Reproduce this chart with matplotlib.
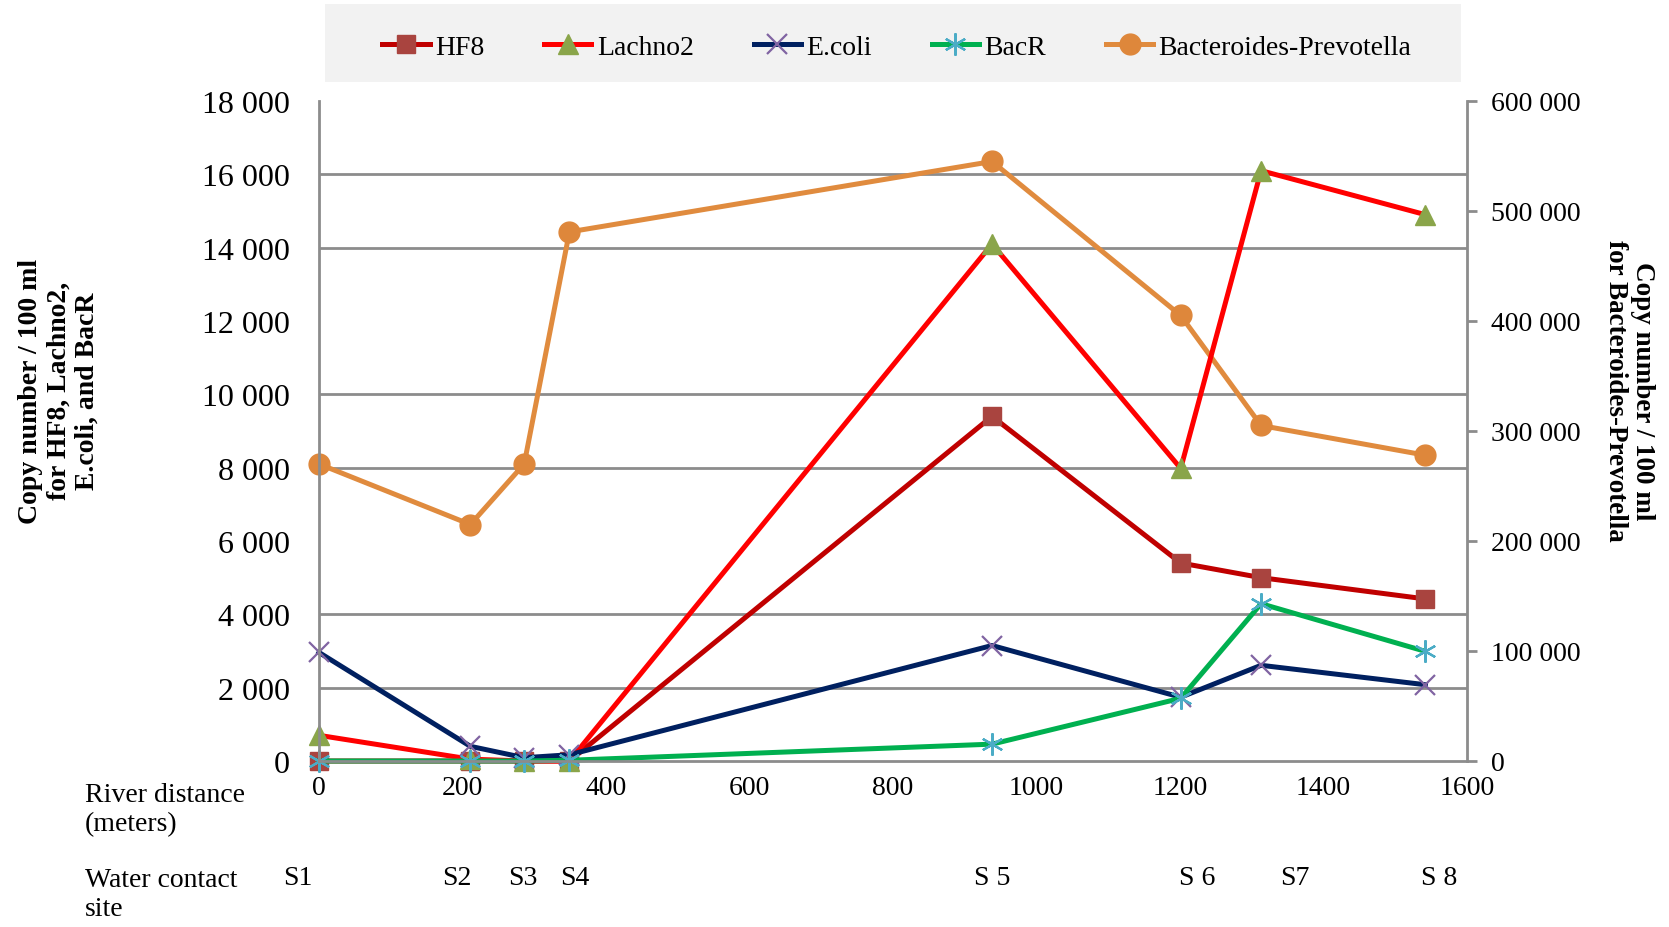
import matplotlib
matplotlib.use("Agg")
import matplotlib.pyplot as plt
from matplotlib.patches import Rectangle
from matplotlib.ticker import FuncFormatter, MultipleLocator
import numpy as np

plt.rcParams['font.family'] = ['Liberation Serif', 'DejaVu Serif']

# ---- data ----
distance = [0, 211, 286, 349, 938, 1201, 1313, 1542]
sites = ["S1", "S2", "S3", "S4", "S 5", "S 6", "S7", "S 8"]
hf8 = [0, 0, 0, 0, 9400, 5400, 5000, 4420]
lachno2 = [700, 50, 0, 0, 14100, 7980, 16100, 14900]
ecoli = [2960, 400, 90, 170, 3150, 1740, 2610, 2080]
bacr = [0, 0, 0, 20, 460, 1710, 4290, 2990]
bact_prev = [270000, 215000, 270000, 481000, 545000, 405000, 305000, 278000]

fig = plt.figure(figsize=(16.69, 9.28), dpi=100)
W, H = 1669, 928
ax = fig.add_axes([319 / W, 1 - 762 / H, (1467 - 319) / W, (762 - 102) / H])
ax2 = ax.twinx()
ax.set_zorder(2)
ax2.set_zorder(1)
ax.patch.set_visible(False)

grid_c = '#8c8c8c'
ax.set_xlim(0, 1600)
ax.set_ylim(0, 18000)
ax2.set_ylim(0, 600000)

# grid drawn on ax2 (behind) at left-axis positions
ratio = 600000 / 18000
ax2.set_yticks(np.arange(0, 18001, 2000) * ratio, minor=True)
ax2.grid(which='minor', axis='y', color=grid_c, lw=2)
ax2.tick_params(which='minor', length=0)

lw = 3.6
l1, = ax.plot(distance, hf8, color='#C00000', lw=lw, marker='s', ms=13,
              mfc='#A9443F', mec='#A9443F', label='HF8', clip_on=False)
l2, = ax.plot(distance, lachno2, color='#FF0000', lw=lw, marker='^', ms=15,
              mfc='#8AA54A', mec='#8AA54A', label='Lachno2', clip_on=False)
l3, = ax.plot(distance, ecoli, color='#002060', lw=lw, marker='x', ms=15, mew=1.6,
              mfc='#8064A2', mec='#8064A2', label='E.coli', clip_on=False)
l4, = ax.plot(distance, bacr, color='#00B050', lw=lw, marker=(6, 2, 0), ms=16, mew=1.6,
              mfc='#4BACC6', mec='#4BACC6', label='BacR', clip_on=False)
l5, = ax2.plot(distance, bact_prev, color='#E08B3E', lw=lw, marker='o', ms=15,
               mfc='#DE873B', mec='#DE873B', label='Bacteroides-Prevotella', clip_on=False)

fmt = FuncFormatter(lambda v, p: f"{int(round(v)):,}".replace(",", " "))
ax.yaxis.set_major_locator(MultipleLocator(2000))
ax.yaxis.set_major_formatter(fmt)
ax2.yaxis.set_major_locator(MultipleLocator(100000))
ax2.yaxis.set_major_formatter(fmt)
ax.xaxis.set_major_locator(MultipleLocator(200))

for s in ['top', 'right']:
    ax.spines[s].set_visible(False)
for s in ['top', 'left', 'bottom']:
    ax2.spines[s].set_visible(False)
for sp in [ax.spines['left'], ax.spines['bottom'], ax2.spines['right']]:
    sp.set_color(grid_c)
    sp.set_linewidth(2)

ax.tick_params(axis='y', length=0, pad=21, labelsize=23)
ax.tick_params(axis='x', length=0, pad=10, labelsize=20)
ax2.tick_params(axis='y', which='major', length=7, width=2, color=grid_c, pad=10, labelsize=20)

# site labels below axis
site_off = [-15, -10, -1, 4, 0, 12, 24, 10]
for xv, name, off in zip(distance, sites, site_off):
    ax.annotate(name, xy=(xv, -0.177), xycoords=ax.get_xaxis_transform(),
                xytext=(off, 0), textcoords='offset points',
                ha='center', va='center', fontsize=20)

fig.text(85 / W, 1 - 810 / H, "River distance\n(meters)", ha='left', va='center',
         fontsize=20, linespacing=1.2)
fig.text(85 / W, 1 - 895 / H, "Water contact\nsite", ha='left', va='center',
         fontsize=20, linespacing=1.2)

fig.text(59 / W, 1 - 391 / H, "Copy number / 100 ml\nfor HF8, Lachno2,\nE.coli, and BacR",
         rotation=90, ha='center', va='center', fontsize=20, fontweight='bold',
         multialignment='center', linespacing=1.18)
fig.text(1629 / W, 1 - 391 / H, "Copy number / 100 ml\nfor Bacteroides-Prevotella",
         rotation=270, ha='center', va='center', fontsize=19.5, fontweight='bold',
         multialignment='center', linespacing=1.15)

# legend box
fig.patches.append(Rectangle((325 / W, 1 - 83 / H), (1461 - 325) / W, (83 - 5) / H,
                             transform=fig.transFigure, facecolor='#f2f2f2',
                             edgecolor='none', zorder=0))
fig.legend(handles=[l1, l2, l3, l4, l5], loc='center', bbox_to_anchor=(897 / W, 1 - 48 / H),
           ncol=5, frameon=False, fontsize=20, handlelength=1.7, handletextpad=0.2,
           columnspacing=2.15, markerscale=1.0)

fig.savefig("out.png", dpi=100)
